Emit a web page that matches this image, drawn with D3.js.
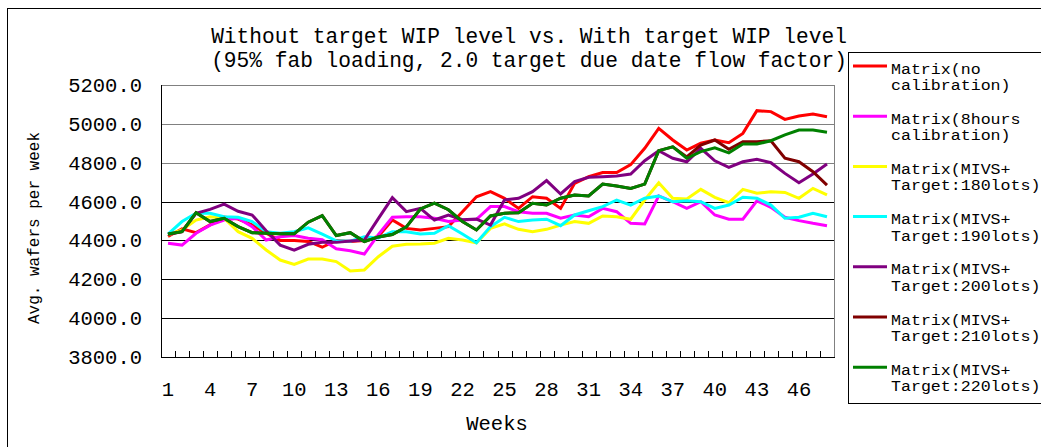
<!DOCTYPE html>
<html>
<head>
<meta charset="utf-8">
<script src="https://cdn.jsdelivr.net/npm/d3@7"></script>
<style>
  body { margin: 0; background: #fff; }
  svg { display: block; }
  text { font-family: "Liberation Mono", "DejaVu Sans Mono", monospace; fill: #000; }
</style>
</head>
<body>
<div id="chart"></div>
<script>
// Data
const weeks = [1, 2, 3, 4, 5, 6, 7, 8, 9, 10, 11, 12, 13, 14, 15, 16, 17, 18, 19, 20, 21, 22, 23, 24,
    25, 26, 27, 28, 29, 30, 31, 32, 33, 34, 35, 36, 37, 38, 39, 40, 41, 42, 43, 44, 45, 46, 47, 48];
const weekLabels = [1, 4, 7, 10, 13, 16, 19, 22, 25, 28, 31, 34, 37, 40, 43, 46];
const yTicks = [3800, 4000, 4200, 4400, 4600, 4800, 5000, 5200];

const seriesNames = [
    ["Matrix(no", "calibration)"],
    ["Matrix(8hours", "calibration)"],
    ["Matrix(MIVS+", "Target:180lots)"],
    ["Matrix(MIVS+", "Target:190lots)"],
    ["Matrix(MIVS+", "Target:200lots)"],
    ["Matrix(MIVS+", "Target:210lots)"],
    ["Matrix(MIVS+", "Target:220lots)"]
];
const seriesColors = ["#ff0000", "#ff00ff", "#ffff00", "#00ffff", "#800080", "#800000", "#008000"];

const noCalib = [4420, 4460, 4440, 4480, 4520, 4510, 4480, 4437, 4400, 4400, 4395, 4365, 4400, 4395, 4400, 4420,
    4505, 4462, 4454, 4462, 4471, 4548, 4625, 4651, 4617, 4565, 4625, 4617, 4565, 4694, 4728, 4749,
    4749, 4790, 4874, 4977, 4917, 4865, 4900, 4917, 4903, 4951, 5068, 5063, 5023, 5040, 5051, 5037];
const calib8h = [4385, 4376, 4437, 4479, 4505, 4514, 4471, 4402, 4419, 4425, 4411, 4404, 4357, 4347, 4330, 4430,
    4519, 4522, 4522, 4514, 4497, 4505, 4509, 4574, 4574, 4548, 4540, 4540, 4514, 4531, 4522, 4565,
    4548, 4488, 4485, 4629, 4599, 4565, 4599, 4531, 4509, 4509, 4604, 4570, 4519, 4502, 4488, 4476];
const target180 = [4428, 4454, 4505, 4522, 4514, 4445, 4411, 4351, 4299, 4277, 4304, 4304, 4291, 4243, 4248, 4316,
    4370, 4380, 4382, 4386, 4411, 4402, 4387, 4462, 4485, 4457, 4445, 4457, 4479, 4497, 4488, 4526,
    4522, 4509, 4608, 4697, 4617, 4613, 4663, 4622, 4594, 4663, 4643, 4651, 4647, 4617, 4668, 4634];
const target190 = [4433, 4497, 4540, 4540, 4522, 4519, 4497, 4445, 4437, 4445, 4465, 4432, 4398, 4396, 4419, 4413,
    4445, 4445, 4433, 4437, 4476, 4433, 4388, 4471, 4519, 4497, 4505, 4509, 4476, 4531, 4553, 4574,
    4608, 4582, 4617, 4629, 4599, 4604, 4599, 4565, 4582, 4622, 4617, 4582, 4514, 4519, 4540, 4522];
const target200 = [4430, 4445, 4540, 4560, 4587, 4550, 4531, 4450, 4376, 4350, 4380, 4390, 4390, 4397, 4402, 4512,
    4620, 4548, 4565, 4505, 4531, 4507, 4510, 4479, 4608, 4617, 4651, 4708, 4639, 4703, 4725, 4728,
    4732, 4742, 4810, 4862, 4823, 4805, 4874, 4810, 4776, 4805, 4818, 4800, 4745, 4697, 4742, 4793];
const target210 = [4433, 4445, 4543, 4497, 4514, 4471, 4440, 4437, 4434, 4434, 4494, 4528, 4425, 4440, 4394, 4418,
    4430, 4470, 4562, 4592, 4558, 4497, 4454, 4526, 4540, 4543, 4591, 4582, 4617, 4634, 4629, 4690,
    4680, 4668, 4690, 4862, 4882, 4830, 4891, 4917, 4869, 4908, 4908, 4913, 4823, 4805, 4754, 4685];
const target220 = [4433, 4445, 4543, 4497, 4514, 4471, 4440, 4437, 4434, 4434, 4494, 4528, 4425, 4440, 4394, 4418,
    4430, 4470, 4562, 4592, 4558, 4497, 4454, 4526, 4540, 4543, 4591, 4582, 4617, 4634, 4629, 4690,
    4680, 4668, 4690, 4862, 4882, 4823, 4857, 4877, 4851, 4896, 4896, 4913, 4943, 4968, 4968, 4957];

const seriesValues = [noCalib, calib8h, target180, target190, target200, target210, target220];

// Chart Dimensions
const W = 1041, H = 447;
const plot = { left: 161, right: 834, top: 85, bottom: 357 };

const svg = d3.select("#chart")
    .append("svg")
    .attr("width", W)
    .attr("height", H);

svg.append("rect").attr("width", W).attr("height", H).attr("fill", "#fff");

// outer chart border
svg.append("rect")
    .attr("x", 7.5).attr("y", 8.5)
    .attr("width", 1100).attr("height", 600)
    .attr("fill", "none").attr("stroke", "#000");

// Scales
const x = d3.scaleBand()
    .domain(weeks)
    .range([plot.left, plot.right])
    .padding(0);

const y = d3.scaleLinear()
    .domain([3800, 5200])
    .range([plot.bottom, plot.top]);

const cx = d => x(d) + x.bandwidth() / 2;

// Gridlines
svg.append("g")
    .selectAll("line")
    .data(yTicks.slice(1))
    .join("line")
    .attr("x1", plot.left).attr("x2", plot.right)
    .attr("y1", d => Math.round(y(d)) + 0.5)
    .attr("y2", d => Math.round(y(d)) + 0.5)
    .attr("stroke", d => d >= 4800 ? "#808080" : "#000")
    .attr("stroke-width", 1);

// right border of plot
svg.append("line")
    .attr("x1", plot.right + 0.5).attr("x2", plot.right + 0.5)
    .attr("y1", plot.top).attr("y2", plot.bottom)
    .attr("stroke", "#808080");

// Y axis
const yAxis = svg.append("g")
    .attr("transform", `translate(${plot.left},0)`)
    .call(d3.axisLeft(y).tickValues(yTicks).tickSize(0).tickPadding(19).tickFormat(d3.format(".1f")));
yAxis.select(".domain").remove();
yAxis.selectAll("text")
    .style("font-family", "Liberation Mono")
    .style("font-size", "20.5px");

// X axis labels
const xAxis = svg.append("g")
    .attr("transform", `translate(0,${plot.bottom})`)
    .call(d3.axisBottom(x).tickValues(weekLabels).tickSize(0).tickPadding(24));
xAxis.select(".domain").remove();
xAxis.selectAll("text")
    .style("font-family", "Liberation Mono")
    .style("font-size", "20.5px");

// inner tick marks at category boundaries
svg.append("g")
    .selectAll("line")
    .data(weeks.slice(1))
    .join("line")
    .attr("x1", d => Math.round(x(d)) + 0.5)
    .attr("x2", d => Math.round(x(d)) + 0.5)
    .attr("y1", plot.bottom).attr("y2", plot.bottom - 6)
    .attr("stroke", "#000");

// axis lines
svg.append("line")
    .attr("x1", plot.left + 0.5).attr("x2", plot.left + 0.5)
    .attr("y1", plot.top).attr("y2", plot.bottom)
    .attr("stroke", "#000");
svg.append("line")
    .attr("x1", plot.left).attr("x2", plot.right + 1)
    .attr("y1", plot.bottom + 0.5).attr("y2", plot.bottom + 0.5)
    .attr("stroke", "#000");

// Lines
const line = d3.line()
    .x((d, i) => cx(weeks[i]))
    .y(d => y(d));

svg.append("g")
    .selectAll("path")
    .data(seriesValues)
    .join("path")
    .attr("d", d => line(d))
    .attr("fill", "none")
    .attr("stroke", (d, i) => seriesColors[i])
    .attr("stroke-width", 3)
    .attr("stroke-linejoin", "miter");

// Titles
svg.append("text")
    .attr("x", 529).attr("y", 43)
    .attr("text-anchor", "middle")
    .style("font-size", "21.2px")
    .text("Without target WIP level vs. With target WIP level");
svg.append("text")
    .attr("x", 529).attr("y", 67)
    .attr("text-anchor", "middle")
    .style("font-size", "21.2px")
    .text("(95% fab loading, 2.0 target due date flow factor)");

svg.append("text")
    .attr("x", 497).attr("y", 430)
    .attr("text-anchor", "middle")
    .style("font-size", "20.5px")
    .text("Weeks");

svg.append("text")
    .attr("transform", "translate(39,228) rotate(-90)")
    .attr("text-anchor", "middle")
    .style("font-size", "16px")
    .text("Avg. wafers per week");

// Legend
const legend = svg.append("g");
legend.append("rect")
    .attr("x", 848.5).attr("y", 52.5)
    .attr("width", 260).attr("height", 351)
    .attr("fill", "#fff").attr("stroke", "#000");

const item = legend.selectAll("g.item")
    .data(seriesNames)
    .join("g")
    .attr("class", "item")
    .attr("transform", (d, i) => `translate(0,${66 + i * 50.2})`);

item.append("line")
    .attr("x1", 853).attr("x2", 887)
    .attr("y1", 0).attr("y2", 0)
    .attr("stroke", (d, i) => seriesColors[i])
    .attr("stroke-width", 3);

// legend text: narrower font size, stretched to the reference width
item.append("text")
    .attr("x", 891).attr("y", 7.5)
    .attr("textLength", d => d[0].length * 9.96)
    .attr("lengthAdjust", "spacingAndGlyphs")
    .style("font-size", "14px")
    .text(d => d[0]);
item.append("text")
    .attr("x", 891).attr("y", 24)
    .attr("textLength", d => d[1].length * 9.96)
    .attr("lengthAdjust", "spacingAndGlyphs")
    .style("font-size", "14px")
    .text(d => d[1]);
</script>
</body>
</html>
